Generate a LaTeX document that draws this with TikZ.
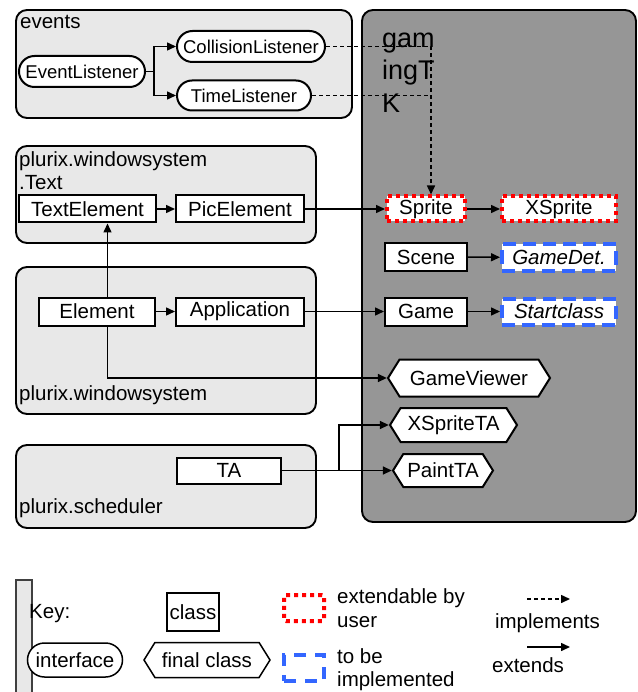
\documentclass[tikz,border=0pt]{standalone}
\usepackage{fontspec}
\setmainfont{Liberation Sans}
\usetikzlibrary{arrows.meta,shapes.misc,shapes.symbols,calc}
\definecolor{pkgfill}{RGB}{232,232,232}
\definecolor{tkfill}{RGB}{150,150,150}
\definecolor{usrred}{RGB}{255,0,0}
\definecolor{implblue}{RGB}{51,102,255}
\newcommand{\fsA}{\fontsize{20.5}{24}\selectfont}
\newcommand{\fsB}{\fontsize{18.5}{22}\selectfont}
\newcommand{\fsC}{\fontsize{27}{32}\selectfont}
\begin{document}
\begin{tikzpicture}[x=1pt,y=-1pt,
  pkg/.style={draw=black,line width=1.9pt,fill=pkgfill,rounded corners=11pt},
  tk/.style={draw=black,line width=1.9pt,fill=tkfill,rounded corners=11pt},
  lbl/.style={anchor=base west,inner sep=0pt,font=\fsA},
  tklbl/.style={anchor=base west,inner sep=0pt,font=\fsC},
  cls/.style={draw=black,line width=2pt,fill=white,inner sep=0pt,font=\fsA},
  usrcls/.style={draw=usrred,line width=4pt,dash pattern=on 4pt off 4pt,fill=white,inner sep=0pt,font=\fsA},
  implcls/.style={draw=implblue,line width=4pt,dash pattern=on 13pt off 7pt,fill=white,inner sep=0pt,font=\fsA\itshape},
  iface/.style={rounded rectangle,draw=black,line width=2pt,fill=white,inner sep=0pt,font=\fsB},
  final/.style={signal,signal to=west and east,signal pointer angle=116,draw=black,line width=2pt,fill=white,inner sep=0pt,font=\fsA},
  ext/.style={-{Triangle[length=9pt,width=8pt]},line width=1.5pt},
  implarr/.style={ext,dash pattern=on 4pt off 3pt},
  implline/.style={line width=1.5pt,dash pattern=on 4pt off 3pt}
]
\useasboundingbox (0,0) rectangle (637,692);

% packages
\draw[tk] (362,10) rectangle (636,522);
\draw[pkg] (16,10) rectangle (352,118);
\draw[pkg] (16,146) rectangle (316,243);
\draw[pkg] (16,267) rectangle (316,414);
\draw[pkg] (16,445) rectangle (316,528);

% package labels
\node[lbl] (lev) at (20,29) {events};
\node[lbl] (lwt1) at (19,167) {plurix.windowsystem};
\node[lbl] (lwt2) at (19,190) {.Text};
\node[lbl] (lws) at (19,400) {plurix.windowsystem};
\node[lbl] (lsc) at (19,513) {plurix.scheduler};
\node[tklbl] (ltk1) at (382,48) {gam};
\node[tklbl] (ltk2) at (382,80) {ingT};
\node[tklbl] (ltk3) at (382,113) {K};

% events
\node[iface,minimum width=126,minimum height=31] (EL) at (82,71.5) {EventListener};
\node[iface,minimum width=148,minimum height=31] (CL) at (251,46.5) {CollisionListener};
\node[iface,minimum width=134,minimum height=30] (TL) at (244,95.5) {TimeListener};

% windowsystem.Text
\node[cls,minimum width=137,minimum height=27] (TE) at (87.5,209) {TextElement};
\node[cls,minimum width=128,minimum height=27] (PE) at (240,209) {PicElement};

% windowsystem
\node[cls,minimum width=116,minimum height=28] (El) at (97,311.5) {Element};
\node[cls,minimum width=128,minimum height=28] (App) at (240,311.5) {Application};

% scheduler
\node[cls,minimum width=104,minimum height=26] (TA) at (229,470.5) {TA};

% gamingTK
\node[usrcls,minimum width=78,minimum height=25] (Spr) at (426,209) {Sprite};
\node[usrcls,minimum width=114,minimum height=25] (XSpr) at (559,209) {XSprite};
\node[cls,minimum width=82,minimum height=27] (Sc) at (426,257) {Scene};
\node[implcls,minimum width=114,minimum height=26] (GD) at (559,257.5) {GameDet.};
\node[cls,minimum width=82,minimum height=28] (Gm) at (426,311.5) {Game};
\node[implcls,minimum width=114,minimum height=26] (SC) at (559,311.5) {Startclass};
\node[final,minimum width=162,minimum height=37] (GV) at (469,378) {GameViewer};
\node[final,minimum width=127,minimum height=34] (XTA) at (453.5,425) {XSpriteTA};
\node[final,minimum width=100,minimum height=33] (PTA) at (443,470.5) {PaintTA};

% connectors
\coordinate (dj) at (431,0);
\coordinate (vx) at (107.5,0);
\coordinate (tb) at (339,0);
\draw[ext] (EL.east) -- ++(8,0) |- (CL.west);
\draw[ext] (EL.east) -- ++(8,0) |- (TL.west);
\draw[implarr] (CL.east) -| (Spr.north -| dj);
\draw[implline] (TL.east) -- (TL.east -| dj);
\draw[ext] (TE) -- (PE);
\draw[ext] (PE.east) -- (Spr.west);
\draw[ext] (El) -- (App);
\draw[ext] (El.north -| vx) -- (TE.south -| vx);
\draw[ext] (El.south -| vx) |- (GV.west);
\draw[ext] (App.east) -- (Gm.west);
\draw[ext] (TA.east) -- (PTA.west);
\draw[ext] (TA.east -| tb) |- (XTA.west);
\draw[ext] (Spr) -- (XSpr);
\draw[ext] (Sc) -- (GD);
\draw[ext] (Gm) -- (SC);

% legend
\draw[draw=black!75,fill=pkgfill,line width=1.4pt] (16,580) rectangle (32,700);
\node[lbl] (key) at (29,618) {Key:};
\node[cls,line width=1.5pt,minimum width=52,minimum height=38] (kcls) at (193,612) {class};
\node[iface,line width=1.5pt,font=\fsA,minimum width=95,minimum height=34] (kif) at (75,660) {interface};
\node[final,line width=1.5pt,minimum width=126,minimum height=35] (kfin) at (207,660) {final class};
\node[usrcls,rounded corners=2pt,minimum width=40,minimum height=26] (kusr) at (304,608) {};
\node[implcls,dash pattern=on 12pt off 9pt,minimum width=40,minimum height=26] (kimp) at (304,668) {};
\node[lbl] (t1) at (337,603) {extendable by};
\node[lbl] (t2) at (337,627) {user};
\node[lbl] (t3) at (337,663) {to be};
\node[lbl] (t4) at (337,686) {implemented};
\coordinate (ia) at (527,599);
\coordinate (ib) at (570,599);
\coordinate (ea) at (527,647);
\coordinate (eb) at (570,647);
\draw[implarr] (ia) -- (ib);
\draw[ext] (ea) -- (eb);
\node[anchor=base,inner sep=0pt,font=\fsA] (timp) at (547.5,628) {implements};
\node[anchor=base,inner sep=0pt,font=\fsA] (text) at (528,672) {extends};
\end{tikzpicture}
\end{document}
